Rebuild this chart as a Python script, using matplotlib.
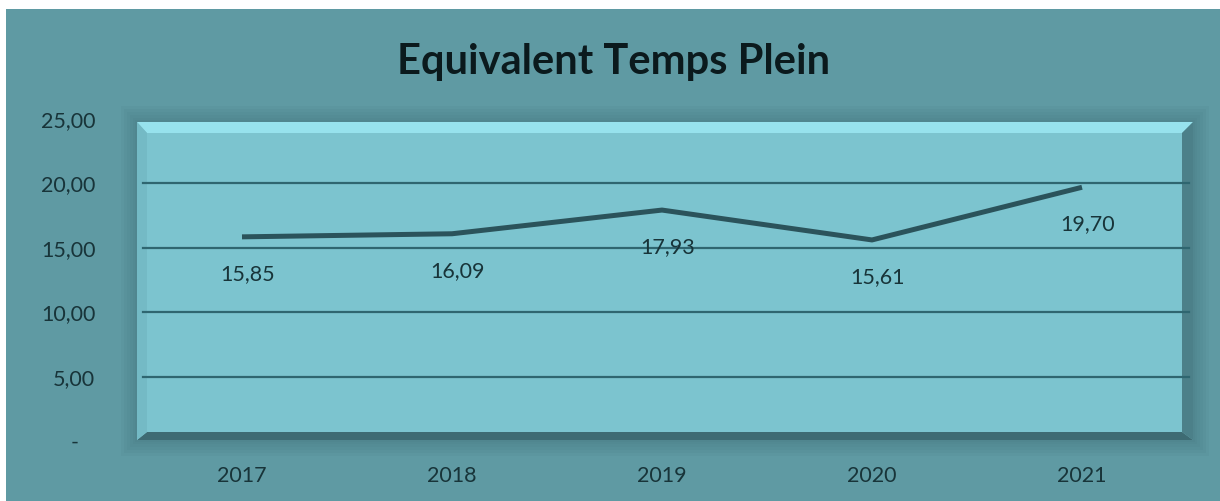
import matplotlib
matplotlib.use('Agg')
import matplotlib.pyplot as plt
from matplotlib.patches import Polygon

# data
years = ['2017', '2018', '2019', '2020', '2021']
etp = [15.85, 16.09, 17.93, 15.61, 19.70]
y_ticks = [0, 5, 10, 15, 20, 25]
y_tick_labels = ['-   ', '5,00', '10,00', '15,00', '20,00', '25,00']

plt.rcParams['font.family'] = ['Lato', 'DejaVu Sans']

W, H = 1220, 501
fig = plt.figure(figsize=(W / 100, H / 100), dpi=100, facecolor='white')


def fx(x):
    return x / W


def fy(y):
    return 1 - y / H


def poly(pts, color, z=-1, alpha=1.0):
    fig.add_artist(Polygon([(fx(x), fy(y)) for x, y in pts], closed=True,
                           transform=fig.transFigure, facecolor=color,
                           edgecolor='none', zorder=z, alpha=alpha))


def rect(x0, y0, x1, y1, color, z=-1, alpha=1.0):
    poly([(x0, y0), (x1, y0), (x1, y1), (x0, y1)], color, z, alpha)


# outer chart area
rect(6, 9, W, H, '#5f9aa3', z=-5)

# soft shadow round the plot box
for d in [16, 13, 10, 7, 4, 2]:
    rect(137 - d, 122 - d, 1193 + d, 440 + d, '#3d6d75', z=-4, alpha=0.08)

# bevelled plot box
rect(137, 122, 1193, 440, '#7cc4cf', z=-3)
poly([(137, 122), (1193, 122), (1182, 133), (147, 133)], '#97e2ed', z=-2)
poly([(1193, 122), (1193, 440), (1182, 432), (1182, 133)], '#4c8089', z=-2)
poly([(137, 440), (1193, 440), (1182, 432), (147, 432)], '#3e6b73', z=-2)
poly([(137, 122), (147, 133), (147, 432), (137, 440)], '#74bac5', z=-2)

ax = fig.add_axes([fx(137), fy(441), (1187 - 137) / W, (441 - 119) / H])
ax.patch.set_visible(False)
for s in ax.spines.values():
    s.set_visible(False)
ax.set_xlim(-0.5, 4.5)
ax.set_ylim(0, 25)

for v in y_ticks[1:-1]:
    ax.axhline(v, xmin=6 / 1050, xmax=1052 / 1050, color='#2f6670',
               lw=1.6, zorder=1, clip_on=False)

ax.plot(range(len(years)), etp, color='#2b535b', lw=3.6,
        solid_capstyle='butt', zorder=3)

text_col = '#183439'
for i, v in enumerate(etp):
    ax.annotate(f'{v:.2f}'.replace('.', ','), (i, v), xytext=(6, -37),
                textcoords='offset pixels', ha='center', va='center',
                fontsize=15.5, color=text_col)

ax.set_xticks(range(len(years)), years)
ax.set_yticks(y_ticks, y_tick_labels)
ax.tick_params(length=0, labelsize=15.5, colors=text_col)
ax.tick_params(axis='y', pad=30)
ax.tick_params(axis='x', pad=18)

fig.text(fx(614), fy(62), 'Equivalent Temps Plein', ha='center',
         va='center', fontsize=30, fontweight='bold', color='#0b1a1d')

plt.savefig('out.png', dpi=100, facecolor='white')
